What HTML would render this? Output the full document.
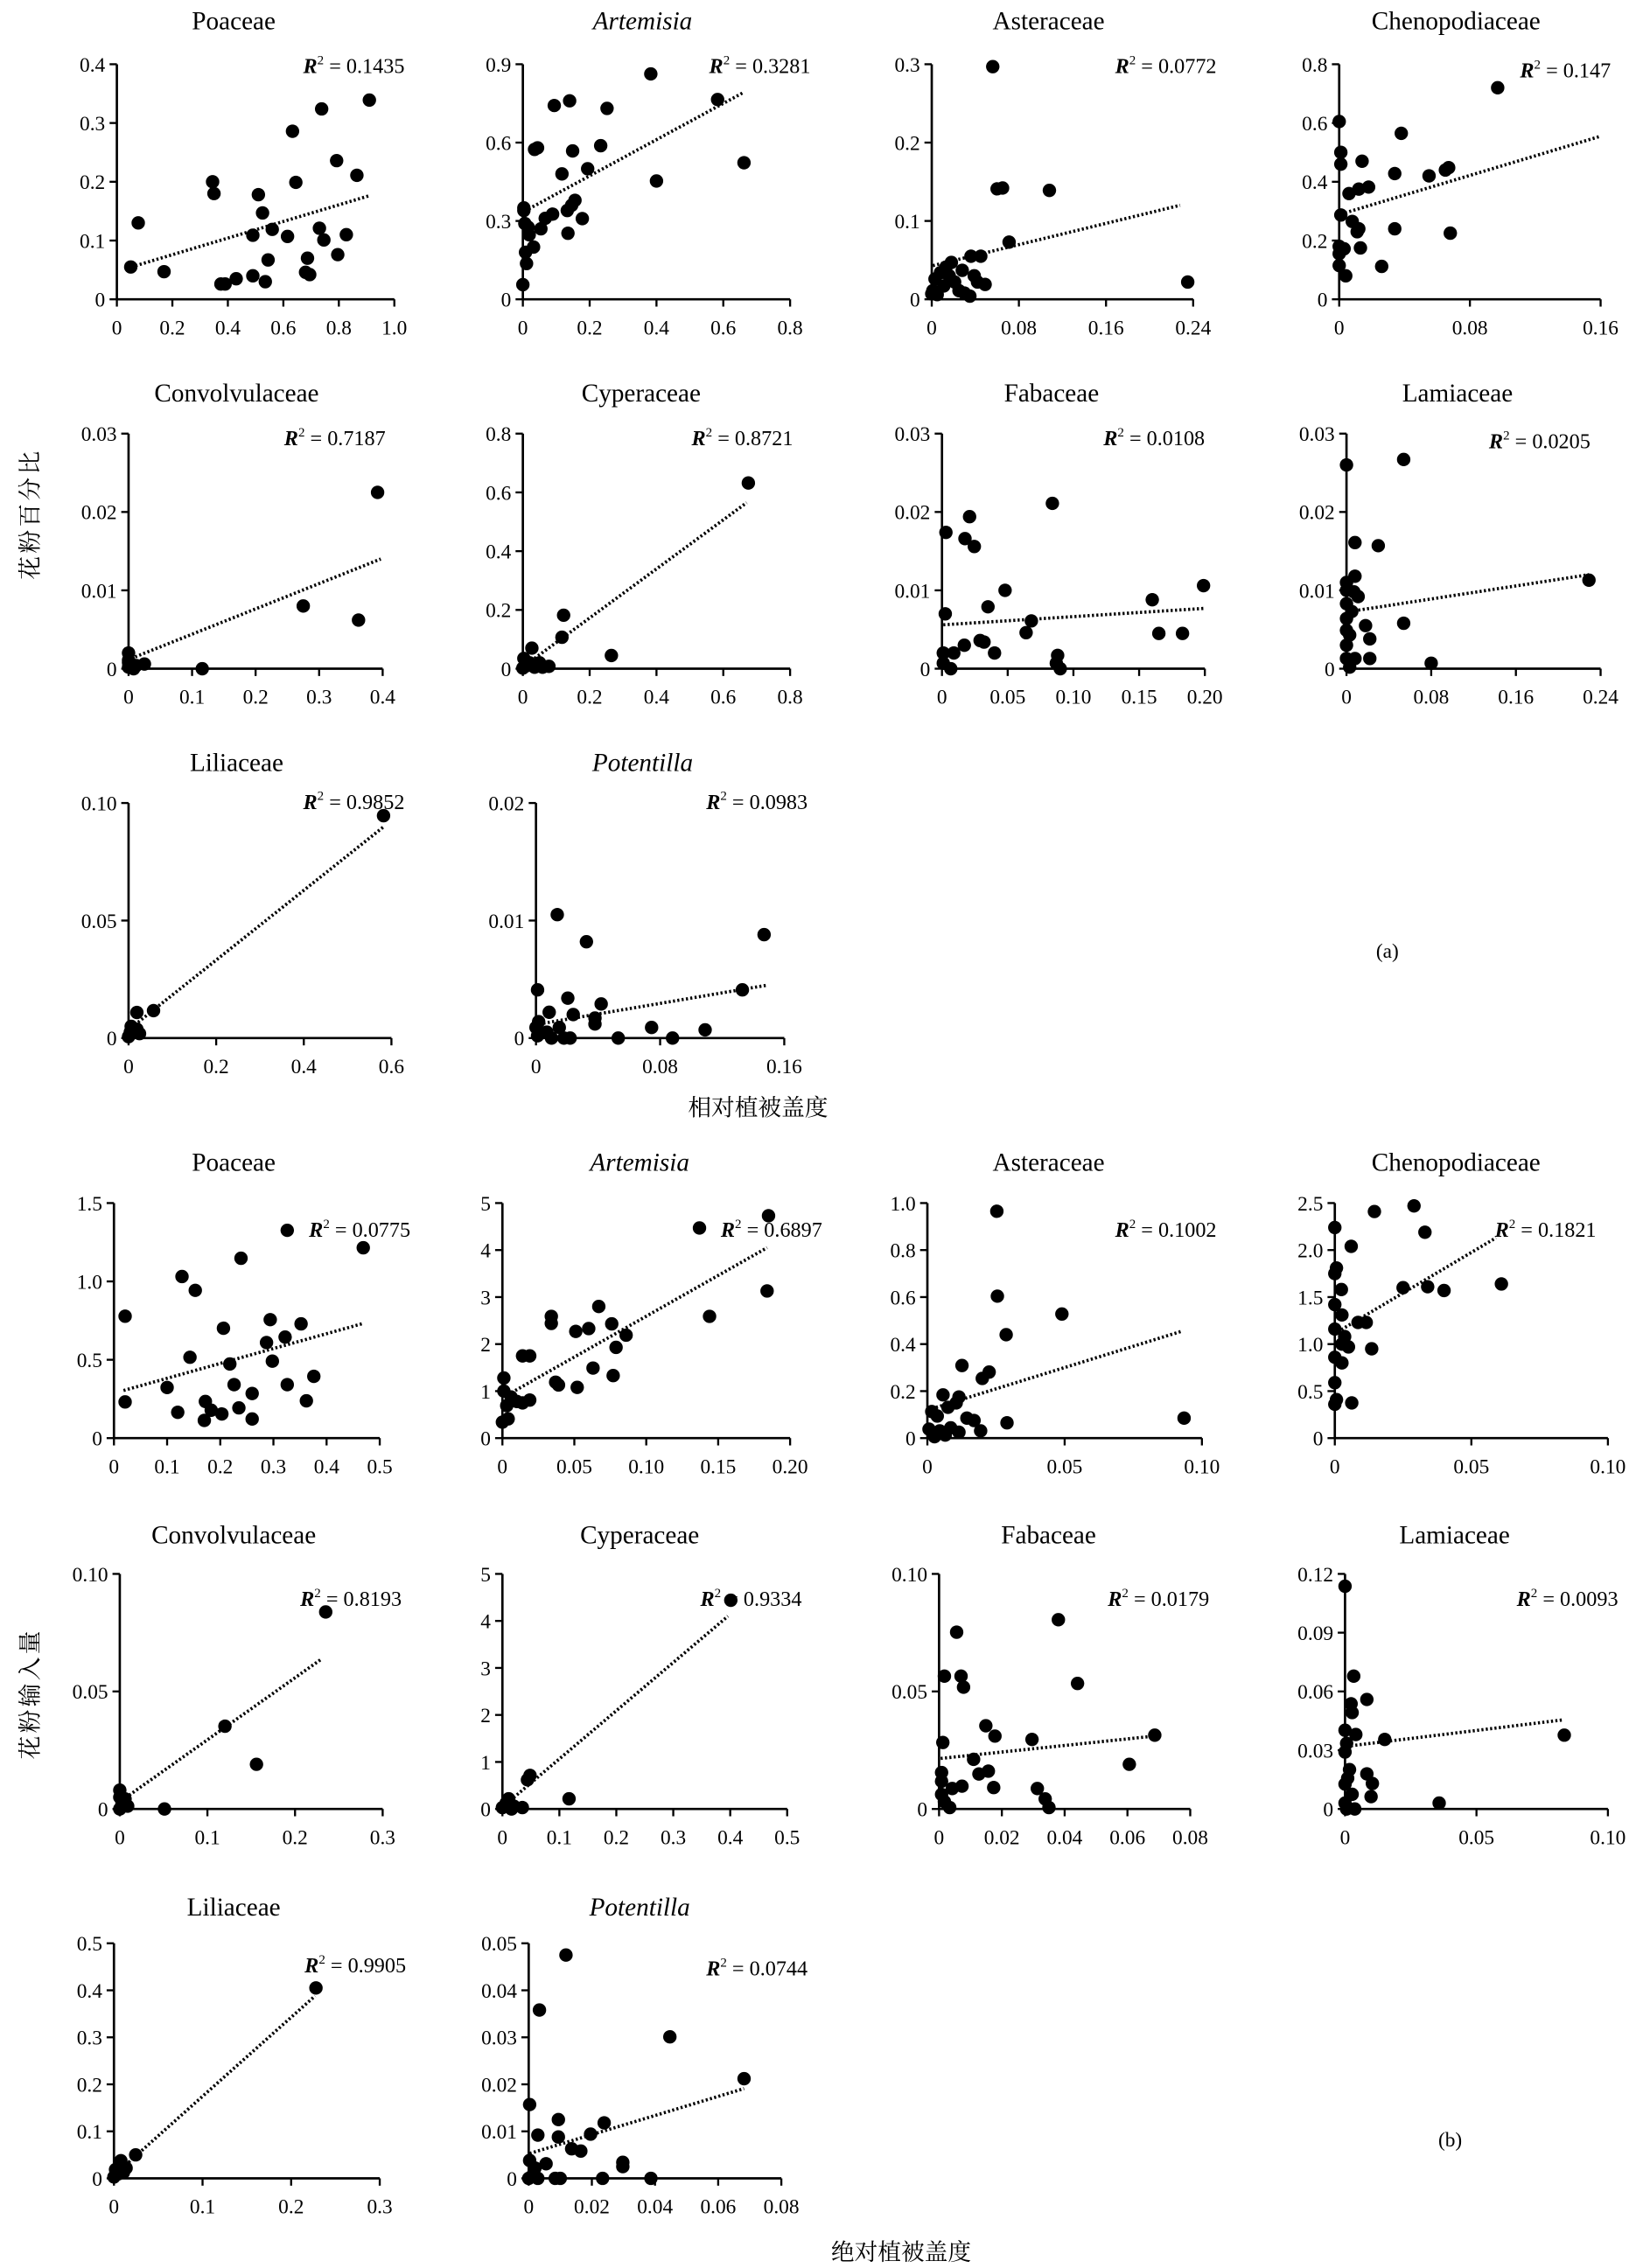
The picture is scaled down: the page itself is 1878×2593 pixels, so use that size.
<!DOCTYPE html>
<html><head><meta charset="utf-8"><style>
html,body{margin:0;padding:0;background:#fff;}
svg{display:block;}
text{font-family:"Liberation Serif","Noto Serif CJK SC","Noto Sans CJK SC",serif;fill:#000;}
</style></head><body>
<svg id="fig" xmlns="http://www.w3.org/2000/svg" width="1878" height="2593" viewBox="0 0 1125 1553.4">
<rect width="1125" height="1553.4" fill="#fff"/>
<text transform="translate(26,352) rotate(-90)" text-anchor="middle" font-size="16" letter-spacing="2">花粉百分比</text>
<text x="519" y="764" text-anchor="middle" font-size="16">相对植被盖度</text>
<text x="950" y="656" text-anchor="middle" font-size="14">(a)</text>
<text transform="translate(26,1160) rotate(-90)" text-anchor="middle" font-size="16" letter-spacing="2">花粉输入量</text>
<text x="617" y="1548" text-anchor="middle" font-size="16">绝对植被盖度</text>
<text x="993" y="1470" text-anchor="middle" font-size="14">(b)</text>
</svg>
<script>
// ---------- (a) relative cover vs pollen percentage ----------
const a1X=[0.05,0.077,0.17,0.345,0.35,0.375,0.39,0.43,0.49,0.49,0.51,0.525,0.535,0.545,0.56,0.615,0.633,0.645,0.68,0.687,0.695,0.73,0.738,0.746,0.792,0.796,0.827,0.865,0.91];
const a1Y=[0.055,0.13,0.047,0.2,0.18,0.026,0.026,0.035,0.04,0.109,0.178,0.147,0.03,0.067,0.119,0.107,0.286,0.199,0.046,0.07,0.042,0.121,0.324,0.101,0.236,0.076,0.11,0.211,0.339];
const a1Trend=[0.052,0.055,0.908,0.176];
const a1XTicks=["0","0.2","0.4","0.6","0.8","1.0"];
const a1YTicks=["0","0.1","0.2","0.3","0.4"];

const a2X=[0,0.011,0.008,0.032,0.019,0.016,0.006,0.003,0.003,0.054,0.067,0.089,0.035,0.044,0.094,0.14,0.117,0.135,0.133,0.146,0.156,0.149,0.178,0.194,0.233,0.252,0.383,0.4,0.583,0.662];
const a2Y=[0.056,0.137,0.18,0.2,0.247,0.276,0.29,0.34,0.35,0.27,0.31,0.326,0.574,0.58,0.742,0.76,0.48,0.253,0.34,0.36,0.379,0.568,0.309,0.5,0.588,0.731,0.863,0.453,0.765,0.523];
const a2Trend=[0.006,0.338,0.662,0.793];
const a2XTicks=["0","0.2","0.4","0.6","0.8"];
const a2YTicks=["0","0.3","0.6","0.9"];

const a3X=[0.056,0.06,0.065,0.108,0.071,0.036,0.045,0.235,0.049,0.039,0.035,0.018,0.013,0.008,0.003,0.001,0.005,0.021,0.025,0.03,0.011,0.016,0.042,0.028,0];
const a3Y=[0.297,0.141,0.142,0.139,0.073,0.055,0.055,0.022,0.019,0.03,0.004,0.047,0.041,0.034,0.026,0.011,0.006,0.022,0.011,0.008,0.017,0.03,0.022,0.037,0.007];
const a3Trend=[0.001,0.043,0.228,0.12];
const a3XTicks=["0","0.08","0.16","0.24"];
const a3YTicks=["0","0.1","0.2","0.3"];

const a4X=[0,0.001,0.001,0.014,0.006,0.012,0.018,0.038,0.034,0.055,0.065,0.067,0.097,0.001,0.008,0.012,0.011,0.034,0.068,0,0.003,0.013,0,0.004,0.026,0];
const a4Y=[0.605,0.5,0.46,0.47,0.36,0.375,0.382,0.565,0.428,0.42,0.44,0.448,0.72,0.287,0.265,0.24,0.23,0.24,0.225,0.18,0.172,0.175,0.115,0.08,0.112,0.155];
const a4Trend=[0.001,0.29,0.16,0.555];
const a4XTicks=["0","0.08","0.16"];
const a4YTicks=["0","0.2","0.4","0.6","0.8"];

const a5X=[0,0,0.004,0,0.008,0.025,0.116,0.275,0.362,0.392,0,0.012];
const a5Y=[0.002,0.0011,0.0006,0.0002,0,0.0006,0,0.008,0.0062,0.0225,0.0008,0.0004];
const a5Trend=[0.004,0.0013,0.397,0.014];
const a5XTicks=["0","0.1","0.2","0.3","0.4"];
const a5YTicks=["0","0.01","0.02","0.03"];

const a6X=[0.675,0.122,0.117,0.265,0.027,0.003,0.011,0.035,0.05,0.078,0.02,0,0.059];
const a6Y=[0.632,0.182,0.107,0.045,0.07,0.035,0.01,0.005,0.02,0.008,0.02,0.002,0.005];
const a6Trend=[0.035,0.035,0.67,0.565];
const a6XTicks=["0","0.2","0.4","0.6","0.8"];
const a6YTicks=["0","0.2","0.4","0.6","0.8"];

const a7X=[0.003,0.0025,0.021,0.0175,0.0246,0.084,0.048,0.035,0.068,0.064,0.029,0.032,0.017,0.04,0.009,0.001,0.001,0.0067,0.088,0.087,0.09,0.16,0.165,0.183,0.199];
const a7Y=[0.0174,0.007,0.0194,0.0166,0.0156,0.0211,0.01,0.0079,0.0061,0.0046,0.0036,0.0034,0.003,0.002,0.002,0.002,0.0007,0,0.0017,0.0007,0,0.0088,0.0045,0.0045,0.0106];
const a7Trend=[0.001,0.0056,0.2,0.0077];
const a7XTicks=["0","0.05","0.10","0.15","0.20"];
const a7YTicks=["0","0.01","0.02","0.03"];

const a8X=[0,0.054,0.008,0.03,0.008,0,0,0.007,0.011,0,0.005,0,0.018,0.054,0,0.003,0.022,0,0,0.008,0.022,0.003,0.08,0.229];
const a8Y=[0.026,0.0267,0.0161,0.0157,0.0118,0.011,0.01,0.0098,0.0092,0.0083,0.0073,0.0064,0.0055,0.0058,0.0049,0.0043,0.0038,0.003,0.0013,0.0013,0.0013,0.0002,0.0007,0.0113];
const a8Trend=[0.003,0.0073,0.229,0.012];
const a8XTicks=["0","0.08","0.16","0.24"];
const a8YTicks=["0","0.01","0.02","0.03"];

const a9X=[0.582,0.057,0.019,0.006,0.012,0,0.019,0.025,0.004];
const a9Y=[0.0946,0.0117,0.0109,0.005,0.0025,0.0006,0.0038,0.0019,0.0025];
const a9Trend=[0.006,0.0044,0.583,0.09];
const a9XTicks=["0","0.2","0.4","0.6"];
const a9YTicks=["0","0.05","0.10"];

const a10X=[0.0137,0.0325,0.147,0.133,0.001,0.0205,0.042,0.0085,0.024,0.038,0.038,0.0017,0.015,0.0745,0.109,0,0.007,0.01,0.022,0.053,0.088,0.001,0.018];
const a10Y=[0.0105,0.0082,0.0088,0.0041,0.0041,0.0034,0.0029,0.0022,0.002,0.0017,0.0012,0.0014,0.0009,0.0009,0.0007,0.0009,0.0005,0,0,0,0,0.0002,0];
const a10Trend=[0.002,0.0012,0.149,0.0045];
const a10XTicks=["0","0.08","0.16"];
const a10YTicks=["0","0.01","0.02"];

// ---------- (b) absolute cover vs pollen influx ----------
const b1X=[0.021,0.021,0.1,0.128,0.12,0.153,0.143,0.172,0.17,0.183,0.203,0.206,0.218,0.239,0.226,0.235,0.26,0.26,0.287,0.294,0.298,0.322,0.326,0.326,0.352,0.362,0.376,0.469];
const b1Y=[0.778,0.231,0.323,1.031,0.165,0.943,0.516,0.234,0.113,0.178,0.154,0.701,0.473,1.148,0.341,0.193,0.285,0.122,0.61,0.756,0.491,0.645,1.326,0.341,0.729,0.238,0.394,1.215];
const b1Trend=[0.018,0.304,0.468,0.731];
const b1XTicks=["0","0.1","0.2","0.3","0.4","0.5"];
const b1YTicks=["0","0.5","1.0","1.5"];

const b2X=[0.137,0.185,0.184,0.144,0.067,0.034,0.034,0.051,0.06,0.076,0.086,0.079,0.014,0.019,0.063,0.077,0.037,0.039,0.052,0.001,0.001,0.006,0.01,0.019,0.003,0.004,0,0.014];
const b2Y=[4.47,4.73,3.13,2.59,2.8,2.59,2.44,2.27,2.33,2.43,2.19,1.93,1.75,1.75,1.49,1.33,1.19,1.13,1.08,1.28,1.0,0.875,0.78,0.81,0.69,0.41,0.34,0.75];
const b2Trend=[0.001,0.875,0.184,4.05];
const b2XTicks=["0","0.05","0.10","0.15","0.20"];
const b2YTicks=["0","1","2","3","4","5"];

const b3X=[0.0253,0.0255,0.049,0.0287,0.0126,0.0225,0.02,0.0057,0.0115,0.0105,0.0075,0.0016,0.0036,0.0144,0.017,0.029,0.0935,0.0006,0.0045,0.0085,0.0194,0.0026,0.0065,0.0115];
const b3Y=[0.965,0.604,0.528,0.44,0.309,0.281,0.254,0.184,0.175,0.15,0.131,0.113,0.094,0.085,0.075,0.065,0.085,0.038,0.031,0.044,0.031,0.006,0.013,0.025];
const b3Trend=[0.0016,0.125,0.093,0.456];
const b3XTicks=["0","0.05","0.10"];
const b3YTicks=["0","0.2","0.4","0.6","0.8","1.0"];

const b4X=[0.029,0.0145,0.033,0,0.006,0.0006,0,0.061,0.025,0.034,0.04,0.0024,0,0.0026,0.0085,0.0115,0,0.0036,0.0026,0.005,0.0135,0,0.0026,0,0.0006,0.0062,0];
const b4Y=[2.47,2.41,2.19,2.24,2.04,1.81,1.75,1.64,1.6,1.61,1.57,1.58,1.42,1.31,1.23,1.23,1.16,1.08,1.0,0.97,0.95,0.86,0.8,0.59,0.41,0.375,0.36];
const b4Trend=[0.001,1.13,0.059,2.13];
const b4XTicks=["0","0.05","0.10"];
const b4YTicks=["0","0.5","1.0","1.5","2.0","2.5"];

const b5X=[0.235,0.12,0.156,0.051,0,0,0.0025,0.009,0,0.006];
const b5Y=[0.0838,0.0352,0.019,0,0.008,0.005,0.0025,0.0012,0,0.0043];
const b5Trend=[0.0025,0.0037,0.231,0.064];
const b5XTicks=["0","0.1","0.2","0.3"];
const b5YTicks=["0","0.05","0.10"];

const b6X=[0.401,0.0485,0.044,0.117,0.011,0.0065,0,0.02,0.035,0.016,0.004];
const b6Y=[4.44,0.714,0.62,0.217,0.217,0.124,0.03,0.06,0.03,0,0.06];
const b6Trend=[0.002,0.06,0.396,4.1];
const b6XTicks=["0","0.1","0.2","0.3","0.4","0.5"];
const b6YTicks=["0","1","2","3","4","5"];

const b7X=[0.0056,0.038,0.0441,0.0017,0.007,0.0078,0.0149,0.0178,0.0296,0.0687,0.0012,0.011,0.0606,0.0157,0.0127,0.0008,0.0008,0.0073,0.0042,0.0174,0.0313,0.0008,0.0338,0.0017,0.035,0.0034];
const b7Y=[0.0752,0.0805,0.0534,0.0565,0.0565,0.0518,0.0354,0.031,0.0296,0.0314,0.0283,0.0211,0.019,0.0161,0.0149,0.0155,0.0118,0.0097,0.0087,0.0091,0.0087,0.0062,0.0043,0.0031,0.0006,0.0006];
const b7Trend=[0.0005,0.0215,0.0685,0.031];
const b7XTicks=["0","0.02","0.04","0.06","0.08"];
const b7YTicks=["0","0.05","0.10"];

const b8X=[0,0.0033,0.0083,0.0023,0.0027,0,0.0041,0.0834,0.0151,0.0006,0,0.0017,0.0083,0.001,0.0104,0,0.0027,0.0099,0,0.0358,0.0037,0.0006];
const b8Y=[0.1137,0.0678,0.0559,0.0537,0.0492,0.0402,0.038,0.0377,0.0355,0.0335,0.0291,0.0201,0.0179,0.0157,0.013,0.0127,0.0075,0.0063,0.003,0.003,0,0];
const b8Trend=[0.0006,0.032,0.083,0.0455];
const b8XTicks=["0","0.05","0.10"];
const b8YTicks=["0","0.03","0.06","0.09","0.12"];

const b9X=[0.228,0.0245,0.0078,0.0137,0.0018,0.0048,0,0.0107];
const b9Y=[0.405,0.05,0.0376,0.0219,0.0188,0.0094,0.003,0.0125];
const b9Trend=[0.0018,0.0094,0.227,0.388];
const b9XTicks=["0","0.1","0.2","0.3"];
const b9YTicks=["0","0.1","0.2","0.3","0.4","0.5"];

const b10X=[0.0118,0.0034,0.0447,0.0682,0.0003,0.0094,0.0239,0.0029,0.0094,0.0196,0.0136,0.0165,0.0003,0.0055,0.0298,0.0298,0.002,0,0.0029,0.0084,0.01,0.0234,0.0387,0.0012];
const b10Y=[0.0475,0.0358,0.0301,0.0212,0.0157,0.0125,0.0118,0.0092,0.0088,0.0094,0.0063,0.0058,0.0038,0.0031,0.0034,0.0025,0.0022,0,0,0,0,0,0,0.0006];
const b10Trend=[0.0003,0.0053,0.0682,0.0191];
const b10XTicks=["0","0.02","0.04","0.06","0.08"];
const b10YTicks=["0","0.01","0.02","0.03","0.04","0.05"];

const R2Labels=["0.1435","0.3281","0.0772","0.147","0.7187","0.8721","0.0108","0.0205","0.9852","0.0983","0.0775","0.6897","0.1002","0.1821","0.8193","0.9334","0.0179","0.0093","0.9905","0.0744"];
const titles=["Poaceae","Artemisia","Asteraceae","Chenopodiaceae","Convolvulaceae","Cyperaceae","Fabaceae","Lamiaceae","Liliaceae","Potentilla","Poaceae","Artemisia","Asteraceae","Chenopodiaceae","Convolvulaceae","Cyperaceae","Fabaceae","Lamiaceae","Liliaceae","Potentilla"];
const xsList=[a1X,a2X,a3X,a4X,a5X,a6X,a7X,a8X,a9X,a10X,b1X,b2X,b3X,b4X,b5X,b6X,b7X,b8X,b9X,b10X];
const ysList=[a1Y,a2Y,a3Y,a4Y,a5Y,a6Y,a7Y,a8Y,a9Y,a10Y,b1Y,b2Y,b3Y,b4Y,b5Y,b6Y,b7Y,b8Y,b9Y,b10Y];
const trendList=[a1Trend,a2Trend,a3Trend,a4Trend,a5Trend,a6Trend,a7Trend,a8Trend,a9Trend,a10Trend,b1Trend,b2Trend,b3Trend,b4Trend,b5Trend,b6Trend,b7Trend,b8Trend,b9Trend,b10Trend];
const xtList=[a1XTicks,a2XTicks,a3XTicks,a4XTicks,a5XTicks,a6XTicks,a7XTicks,a8XTicks,a9XTicks,a10XTicks,b1XTicks,b2XTicks,b3XTicks,b4XTicks,b5XTicks,b6XTicks,b7XTicks,b8XTicks,b9XTicks,b10XTicks];
const ytList=[a1YTicks,a2YTicks,a3YTicks,a4YTicks,a5YTicks,a6YTicks,a7YTicks,a8YTicks,a9YTicks,a10YTicks,b1YTicks,b2YTicks,b3YTicks,b4YTicks,b5YTicks,b6YTicks,b7YTicks,b8YTicks,b9YTicks,b10YTicks];

// layout: [axisLeft, axisRight, axisTop, axisBottom, titleX, titleY, r2EndX, r2Y]
const layout=[
[80,270,44,205,160,20,277,50],[358,541,44,205,440,20,555,50],[638,817,44,205,718,20,833,50],[917,1096,44,205,997,20,1103,53],
[88,262,297,458,162,275,264,305],[358,541,297,458,439,275,543,305],[645,825,297,458,720,275,825,305],[922,1096,297,458,998,275,1089,307],
[88,268,550,711,162,528,277,554],[367,537,550,711,440,528,553,554],
[78,260,824,985,160,802,281,847],[344,541,824,985,438,802,563,847],[635,823,824,985,718,802,833,847],[914,1101,824,985,997,802,1093,847],
[82,262,1078,1239,160,1057,275,1100],[344,539,1078,1239,438,1057,549,1100],[643,815,1078,1239,718,1057,828,1100],[921,1101,1078,1239,996,1057,1108,1100],
[78,260,1331,1492,160,1312,278,1351],[362,535,1331,1492,438,1312,553,1353]];

const NS="http://www.w3.org/2000/svg";
const svg=document.getElementById('fig');
function mk(tag,attrs,parent){const e=document.createElementNS(NS,tag);for(const k in attrs)e.setAttribute(k,attrs[k]);parent.appendChild(e);return e;}

for(let i=0;i<20;i++){
  const L=layout[i],xt=xtList[i],yt=ytList[i];
  const xmax=parseFloat(xt[xt.length-1]),ymax=parseFloat(yt[yt.length-1]);
  const sx=v=>L[0]+(v/xmax)*(L[1]-L[0]);
  const sy=v=>L[3]-(v/ymax)*(L[3]-L[2]);
  const part=i<10?'a':'b';
  const slug=titles[i].toLowerCase()+'-'+part;
  const g=mk('g',{},svg);
  
  
  const t=mk('text',{x:L[4],y:L[5],'text-anchor':'middle','font-size':17.5},g);
  
  
  if(titles[i]==='Artemisia'||titles[i]==='Potentilla')t.setAttribute('font-style','italic');
  t.textContent=titles[i];
  const ya=mk('line',{x1:L[0],y1:L[2],x2:L[0],y2:L[3],stroke:'#000','stroke-width':1.6},g);
  
  
  const xa=mk('line',{x1:L[0],y1:L[3],x2:L[1],y2:L[3],stroke:'#000','stroke-width':1.6},g);
  
  
  xt.forEach(lbl=>{
    const x=sx(parseFloat(lbl));
    mk('line',{x1:x,y1:L[3],x2:x,y2:L[3]+5,stroke:'#000','stroke-width':1.4},g);
    const tx=mk('text',{x:x,y:L[3]+24,'text-anchor':'middle','font-size':14},g);
    
    
    tx.textContent=lbl;
  });
  yt.forEach(lbl=>{
    const y=sy(parseFloat(lbl));
    mk('line',{x1:L[0]-5,y1:y,x2:L[0],y2:y,stroke:'#000','stroke-width':1.4},g);
    const ty=mk('text',{x:L[0]-8,y:y+5,'text-anchor':'end','font-size':14},g);
    
    
    ty.textContent=lbl;
  });
  const tr=trendList[i];
  const tl=mk('line',{x1:sx(tr[0]),y1:sy(tr[1]),x2:sx(tr[2]),y2:sy(tr[3]),stroke:'#000','stroke-width':2.2,'stroke-dasharray':'1.4 1.6'},g);
  
  
  const xs=xsList[i],ys=ysList[i];
  for(let k=0;k<xs.length;k++){
    const c=mk('circle',{cx:sx(xs[k]),cy:sy(ys[k]),r:4.6,fill:'#000'},g);
    
    
  }
  const r=mk('text',{x:L[6],y:L[7],'text-anchor':'end','font-size':14.5},g);
  
  
  const ri=mk('tspan',{'font-style':'italic','font-weight':'bold'},r);ri.textContent='R';
  const rs=mk('tspan',{'font-size':9,dy:-6},r);rs.textContent='2';
  const rv=mk('tspan',{dy:6},r);rv.textContent=' = '+R2Labels[i];
}
</script>
</body></html>
